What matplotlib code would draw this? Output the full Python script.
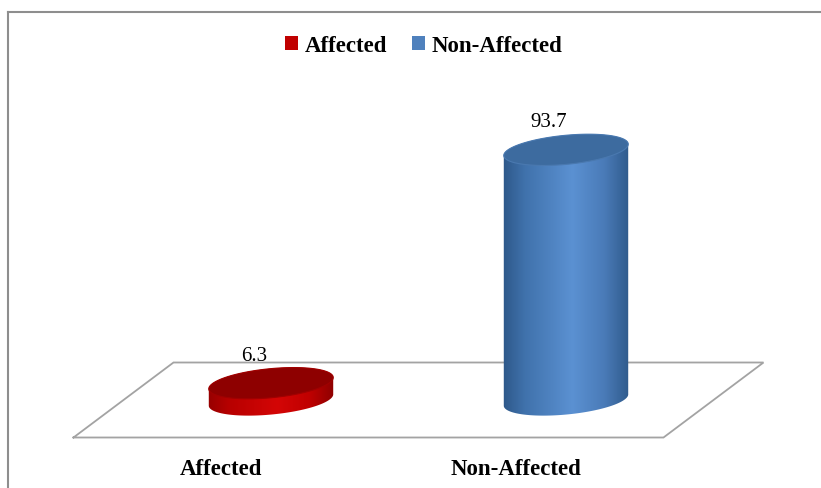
import numpy as np
import matplotlib
matplotlib.use("Agg")
import matplotlib.pyplot as plt
from matplotlib.patches import Polygon, Patch
from matplotlib.colors import LinearSegmentedColormap
from matplotlib.lines import Line2D

# ---- data ----
categories = ["Affected", "Non-Affected"]
values = [6.3, 93.7]
value_labels = ["6.3", "93.7"]

# ---- styling ----
legend_colors = ["#c00000", "#4f81bd"]
top_colors = ["#8e0000", "#3d6b9f"]
rim_colors = ["#a00000", "#4a79b0"]
side_stops = [
    ["#960000", "#b80000", "#d40606", "#c00000", "#8c0000"],
    ["#2d5788", "#4072ac", "#5b91d2", "#4a7bb8", "#2f5a8b"],
]

W, H, DPI = 821, 488, 100
fig = plt.figure(figsize=(W / DPI, H / DPI), dpi=DPI)
fig.patch.set_facecolor("white")

# pixel layout of the pseudo-3D plot area
X0, DX = 271.0, 295.0      # pixel x of first category centre, spacing per category
Y0, S = 88.0, 2.67         # pixel y (from bottom) of value 0, pixels per unit value
A_PX, B_PX = 62.5, 14.5    # cylinder ellipse semi-axes in pixels
TILT = np.deg2rad(5.5)     # perspective tilt of the ellipses
DEPTH_X, DEPTH_Y = 50.0, 37.5  # half depth of the floor in pixels

ax = fig.add_axes([0, 0, 1, 1])
ax.set_xlim(-X0 / DX, (W - X0) / DX)
ax.set_ylim(-Y0 / S, (H - Y0) / S)
ax.axis("off")


def ellipse_offsets(t):
    dx = A_PX * np.cos(t) * np.cos(TILT) - B_PX * np.sin(t) * np.sin(TILT)
    dy = A_PX * np.cos(t) * np.sin(TILT) + B_PX * np.sin(t) * np.cos(TILT)
    return dx / DX, dy / S


# floor parallelogram at value 0
n = len(categories)
left, right = -0.5, n - 0.5
ddx, ddy = DEPTH_X / DX, DEPTH_Y / S
floor = [
    (left - ddx, -ddy), (right - ddx, -ddy),
    (right + ddx, ddy), (left + ddx, ddy), (left - ddx, -ddy),
]
fx, fy = zip(*floor)
ax.plot(fx, fy, color="#a3a3a3", lw=1.3, solid_joinstyle="miter", zorder=1)

# cylinders
for i, (v, lab) in enumerate(zip(values, value_labels)):
    xc = i
    t_up = np.linspace(0, np.pi, 120)
    t_dn = np.linspace(np.pi, 2 * np.pi, 120)
    ux, uy = ellipse_offsets(t_up)
    lx, ly = ellipse_offsets(t_dn)
    side_x = np.concatenate([xc + ux, xc + lx])
    side_y = np.concatenate([v + uy, 0 + ly])
    side = Polygon(np.column_stack([side_x, side_y]), closed=True,
                   facecolor="none", edgecolor="none", zorder=2)
    ax.add_patch(side)

    cmap = LinearSegmentedColormap.from_list(
        f"side{i}", list(zip([0, 0.18, 0.55, 0.8, 1.0], side_stops[i])))
    grad = np.linspace(0, 1, 256).reshape(1, -1)
    half_w = A_PX / DX * 1.02
    im = ax.imshow(grad, cmap=cmap, aspect="auto", interpolation="bilinear",
                   extent=[xc - half_w, xc + half_w,
                           side_y.min(), side_y.max()], zorder=2)
    im.set_clip_path(side)

    t_all = np.linspace(0, 2 * np.pi, 240)
    ex, ey = ellipse_offsets(t_all)
    top = Polygon(np.column_stack([xc + ex, v + ey]), closed=True,
                  facecolor=top_colors[i], edgecolor=rim_colors[i],
                  lw=0.8, zorder=3)
    ax.add_patch(top)

    ax.annotate(lab, xy=(xc, v), xytext=(-17, 27), textcoords="offset pixels",
                ha="center", va="center", fontsize=15,
                family="Liberation Serif", color="black", zorder=4)

# category labels under the front edge of the floor
for i, cat in enumerate(categories):
    ax.annotate(cat, xy=(i - ddx, -ddy), xytext=(0, -32),
                textcoords="offset pixels", ha="center", va="center",
                fontsize=16.5, fontweight="bold",
                family="Liberation Serif", color="black")

# legend
handles = [Patch(facecolor=c, edgecolor="none") for c in legend_colors]
fig.legend(handles, categories, loc="center", ncol=2,
           bbox_to_anchor=(0.516, (H - 46) / H), frameon=False,
           prop={"family": "Liberation Serif", "weight": "bold", "size": 16.5},
           handlelength=0.55, handleheight=0.55, handletextpad=0.3,
           columnspacing=1.1)

# chart border (top and left edges visible)
fig.add_artist(Line2D([7.5 / W, 1.0], [(H - 12) / H, (H - 12) / H],
                      transform=fig.transFigure, color="#8e8e8e", lw=1.5))
fig.add_artist(Line2D([7.5 / W, 7.5 / W], [0, (H - 12) / H],
                      transform=fig.transFigure, color="#8e8e8e", lw=1.5))

fig.savefig("out.png", dpi=DPI, facecolor="white")
